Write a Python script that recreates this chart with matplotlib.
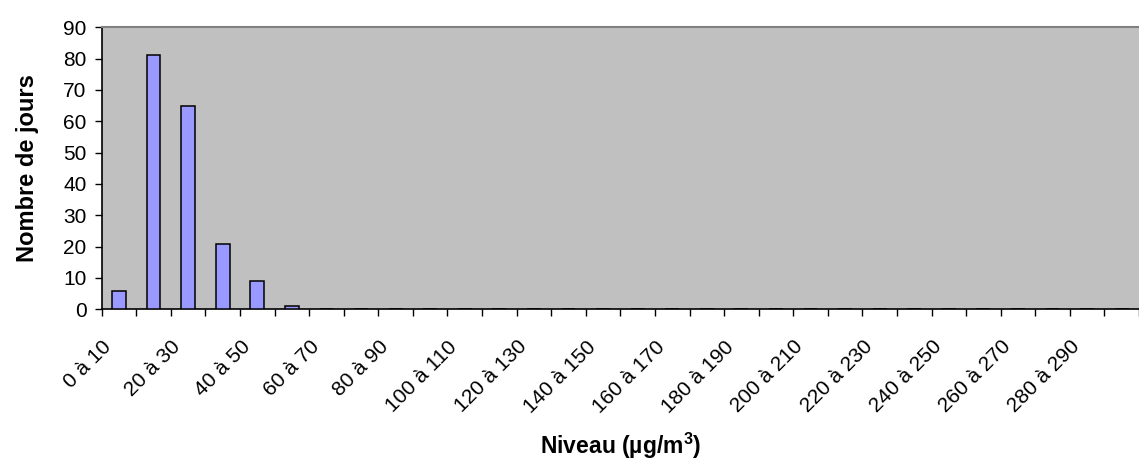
import matplotlib

matplotlib.use("Agg")
import matplotlib.pyplot as plt
import matplotlib.transforms as mtransforms
import numpy as np

plt.rcParams["font.family"] = ["Liberation Sans", "DejaVu Sans"]
plt.rcParams["mathtext.fontset"] = "custom"
plt.rcParams["mathtext.rm"] = "Liberation Sans"
plt.rcParams["mathtext.bf"] = "Liberation Sans:bold"

# classes de concentration (10 µg/m3 chacune)
lower_bounds = list(range(0, 300, 10))
categories = [f"{lo} à {lo + 10}" for lo in lower_bounds]
counts = [6, 81, 65, 21, 9, 1] + [0] * 24
# une étiquette sur deux est affichée
shown_labels = categories[::2]

fig = plt.figure(figsize=(11.39, 4.61), dpi=100)
ax = fig.add_axes([0.0893, 0.329, 0.9107, 0.612])
ax.set_facecolor("#c0c0c0")

x = np.arange(len(categories))
ax.bar(x, counts, width=0.4, color="#9999ff", edgecolor="black", linewidth=1.1, zorder=3)

ax.set_xlim(-0.5, len(categories) - 0.5)
ax.set_ylim(0, 90)
ax.set_yticks(range(0, 91, 10))
ax.tick_params(axis="y", labelsize=15, length=5, width=1, direction="out", pad=6)

# ticks at class boundaries, labels at class centres
ax.set_xticks(np.arange(len(categories) + 1) - 0.5)
ax.set_xticklabels([])
ax.tick_params(axis="x", which="major", length=5, width=1, direction="out")
ax.set_xticks(x[::2], minor=True)
ax.set_xticklabels(shown_labels, minor=True, rotation=45, ha="right",
                   rotation_mode="anchor", fontsize=15)
ax.tick_params(axis="x", which="minor", length=0, pad=20)
shift = mtransforms.ScaledTranslation(-17 / 100, 0, fig.dpi_scale_trans)
for lbl in ax.get_xticklabels(minor=True):
    lbl.set_transform(lbl.get_transform() + shift)

for side in ("left", "bottom"):
    ax.spines[side].set_color("black")
    ax.spines[side].set_linewidth(1.2)
ax.spines["top"].set_color("#808080")
ax.spines["top"].set_linewidth(1.5)
ax.spines["right"].set_visible(False)

ax.set_ylabel("Nombre de jours", fontsize=17, fontweight="bold")
ax.yaxis.set_label_coords(-0.06, 0.5)
ax.set_xlabel(r"Niveau (µg/m$^{\mathbf{3}}$)", fontsize=16.5, fontweight="bold")
ax.xaxis.set_label_coords(0.5, -0.43)

fig.savefig("out.png", dpi=100)
